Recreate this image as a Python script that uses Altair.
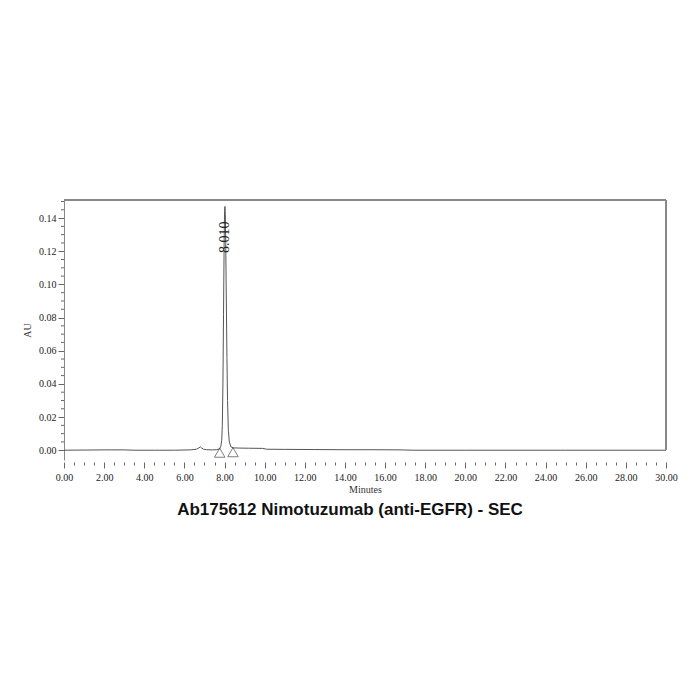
import altair as alt
import pandas as pd

# Chromatogram trace (minutes, AU)
time_min = [0.0, 1.0, 2.0, 3.0, 3.5, 4.5, 5.5, 6.3, 6.6, 6.72, 6.8, 6.86, 6.95, 7.1, 7.4, 7.6,
            7.75, 7.82, 7.86, 7.89, 7.92, 7.95, 7.98, 8.00, 8.02, 8.04, 8.06, 8.09, 8.12,
            8.15, 8.19, 8.24, 8.32, 8.45, 8.7, 9.2, 9.9, 10.1, 11.0, 12.5, 14.0, 15.5,
            16.8, 17.4, 20.0, 25.0, 30.0]
absorb_au = [0.0, 0.0001, 0.0002, 0.0002, 0.0, 0.0, 0.0, 0.0002, 0.0006, 0.0014, 0.0020,
             0.0013, 0.0006, 0.0003, 0.0002, 0.0003,
             0.0008, 0.0025, 0.0060, 0.0150, 0.0400, 0.0820, 0.1250, 0.1440, 0.1470,
             0.1420, 0.1250, 0.0900, 0.0560, 0.0300, 0.0120, 0.0050, 0.0020, 0.0014,
             0.0013, 0.0012, 0.0011, 0.0006, 0.0005, 0.0004, 0.0003, 0.0003,
             0.0002, 0.0, 0.0, 0.0, 0.0]

# Peak integration markers
marker_time = [7.76, 8.42]
marker_au = [-0.0015, -0.0012]

# Peak label
peak_time = [8.01]
peak_au = [0.1285]
peak_text = ["8.010"]

x_ticks = [i * 0.5 for i in range(61)]
y_major_ticks = [0.0, 0.02, 0.04, 0.06, 0.08, 0.10, 0.12, 0.14]
y_minor_ticks = [0.005, 0.01, 0.015, 0.025, 0.03, 0.035, 0.045, 0.05, 0.055, 0.065, 0.07,
                 0.075, 0.085, 0.09, 0.095, 0.105, 0.11, 0.115, 0.125, 0.13, 0.135, 0.145,
                 0.15]

trace = pd.DataFrame({"t": time_min, "au": absorb_au})
markers = pd.DataFrame({"t": marker_time, "au": marker_au})
peaks = pd.DataFrame({"t": peak_time, "au": peak_au, "label": peak_text})
minor = pd.DataFrame({"au": y_minor_ticks})

W, H = 602, 260
serif = "Liberation Serif"

xscale = alt.Scale(domain=[0, 30], nice=False, zero=False)
yscale = alt.Scale(domain=[-0.0059, 0.1509], nice=False, zero=False)

x_major = "abs(datum.value/2 - round(datum.value/2)) < 0.001"

x_axis = alt.Axis(
    values=x_ticks,
    labelExpr=x_major + " ? format(datum.value, '.2f') : ''",
    labelOverlap=False,
    labelFlush=False,
    tickSize={"condition": {"test": x_major, "value": 6}, "value": 3},
    domain=False,
    grid=False,
    tickColor="#666666",
    labelFont=serif,
    labelFontSize=10,
    labelColor="#222222",
    labelPadding=4,
    title="Minutes",
    titleFont=serif,
    titleFontSize=10,
    titleFontWeight="normal",
    titleColor="#333333",
    titlePadding=2,
    offset=2,
)

y_axis = alt.Axis(
    values=y_major_ticks,
    format=".2f",
    labelOverlap=False,
    labelFlush=False,
    labelFontSize=10,
    tickSize=6,
    domainColor="#888888",
    tickColor="#666666",
    grid=False,
    labelFont=serif,
    labelColor="#222222",
    labelPadding=2,
    title="AU",
    titleFont=serif,
    titleFontSize=10,
    titleFontWeight="normal",
    titleColor="#333333",
    titlePadding=6,
)

X = alt.X("t:Q", scale=xscale, axis=x_axis)
Y = alt.Y("au:Q", scale=yscale, axis=y_axis)

line = alt.Chart(trace).mark_line(color="#555555", strokeWidth=1).encode(
    x=X, y=Y, order="t:Q",
)

minor_ticks = alt.Chart(minor).mark_rule(color="#666666", strokeWidth=1).encode(
    x=alt.value(-3), x2=alt.value(0), y=Y,
)

tri = alt.Chart(markers).mark_point(shape="triangle-up", filled=False, color="#333333",
                                     size=110, strokeWidth=0.9).encode(x=X, y=Y)

lbl = alt.Chart(peaks).mark_text(angle=270, font=serif, fontSize=14, color="#222222",
                                 align="center", baseline="middle").encode(
    x=X, y=Y, text="label:N",
)

top_rule = alt.Chart(trace).mark_rule(color="#888888", strokeWidth=1).encode(
    x=alt.value(0), x2=alt.value(W), y=alt.value(0)
)
right_rule = alt.Chart(trace).mark_rule(color="#888888", strokeWidth=1).encode(
    x=alt.value(W), y=alt.value(0), y2=alt.value(250)
)

title_txt = alt.Chart(pd.DataFrame({"s": ["Ab175612 Nimotuzumab (anti-EGFR) - SEC"]})).mark_text(
    font="Liberation Sans", fontSize=17, fontWeight="bold", color="#111111",
    align="center", baseline="alphabetic"
).encode(x=alt.value(286), y=alt.value(315), text="s:N")

chart = alt.layer(line, minor_ticks, top_rule, right_rule, tri, lbl, title_txt).properties(
    width=W, height=H,
    autosize=alt.AutoSizeParams(type="none"),
    padding={"left": 56, "top": 192, "right": 26, "bottom": 232},
    background="white",
).configure_view(stroke=None).configure_axis(labelOverlap=False)

chart.save("out.html", embed_options={"renderer": "svg", "actions": False})
